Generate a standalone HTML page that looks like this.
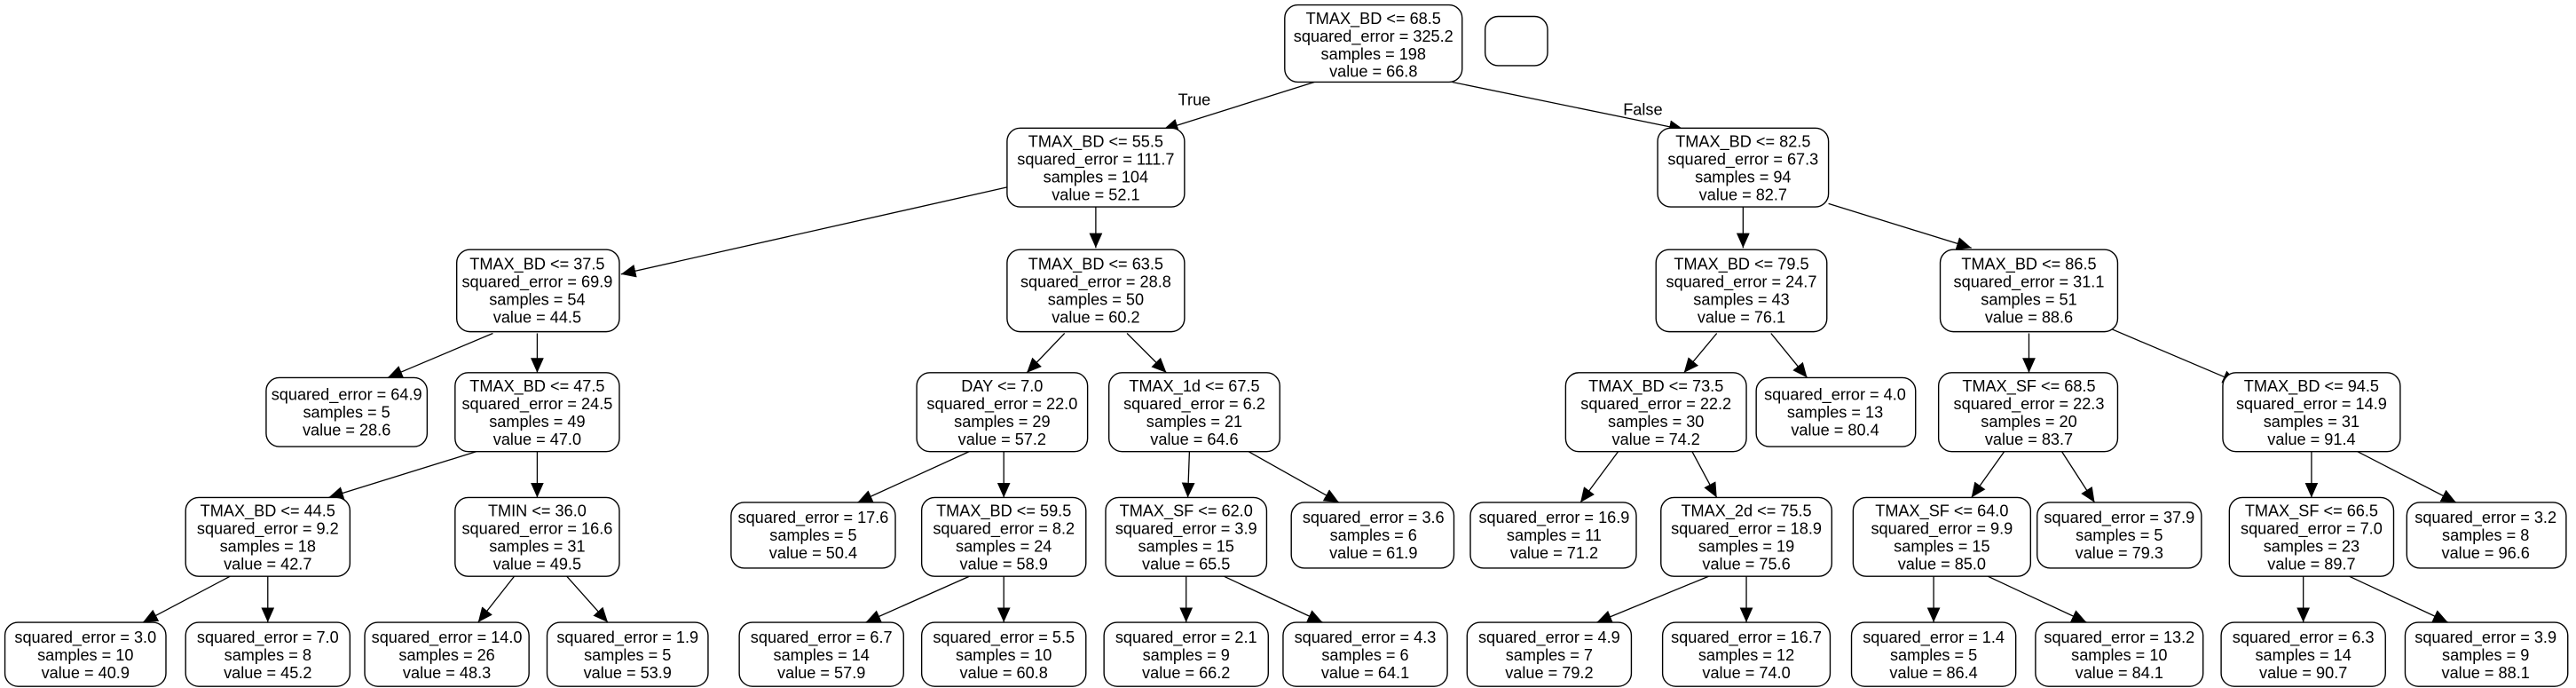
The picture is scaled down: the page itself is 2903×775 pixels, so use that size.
<!DOCTYPE html>
<html><head><meta charset="utf-8"><style>
html,body{margin:0;padding:0;background:#fff;}
svg{display:block;}
text{font-family:"Liberation Sans",Arial,sans-serif;font-size:9.8px;fill:#000;text-anchor:middle;}
rect{fill:#fff;stroke:#000;stroke-width:0.75;}
line{stroke:#000;stroke-width:0.7;}
</style></head><body>
<svg width="2903" height="775" viewBox="0 0 1568 419" preserveAspectRatio="none" xmlns="http://www.w3.org/2000/svg">
<defs><marker id="a" markerUnits="userSpaceOnUse" markerWidth="11" markerHeight="9" refX="9" refY="4" orient="auto"><path d="M0,0 L9,4 L0,8 z" fill="#000"/></marker></defs>
<g marker-end="url(#a)">
<line x1="800" y1="50" x2="708" y2="79"/>
<line x1="884" y1="50" x2="1025" y2="79"/>
<line x1="613" y1="114" x2="378" y2="167"/>
<line x1="667" y1="126" x2="667" y2="151"/>
<line x1="1061" y1="126" x2="1061" y2="151"/>
<line x1="1113" y1="124" x2="1200" y2="151"/>
<line x1="300" y1="203" x2="236" y2="230"/>
<line x1="327" y1="203" x2="327" y2="227"/>
<line x1="648" y1="203" x2="625" y2="227"/>
<line x1="686" y1="203" x2="710" y2="227"/>
<line x1="1045" y1="203" x2="1025" y2="227"/>
<line x1="1078" y1="203" x2="1100" y2="230"/>
<line x1="1235" y1="203" x2="1235" y2="227"/>
<line x1="1282" y1="199" x2="1362" y2="233"/>
<line x1="290" y1="275" x2="200" y2="303"/>
<line x1="327" y1="275" x2="327" y2="303"/>
<line x1="590" y1="275" x2="522" y2="306"/>
<line x1="611" y1="275" x2="611" y2="303"/>
<line x1="724" y1="275" x2="723" y2="303"/>
<line x1="760" y1="275" x2="815" y2="306"/>
<line x1="985" y1="275" x2="962" y2="306"/>
<line x1="1030" y1="275" x2="1045" y2="303"/>
<line x1="1220" y1="275" x2="1200" y2="303"/>
<line x1="1255" y1="275" x2="1275" y2="306"/>
<line x1="1407" y1="275" x2="1407" y2="303"/>
<line x1="1435" y1="275" x2="1495" y2="306"/>
<line x1="140" y1="351" x2="87" y2="379"/>
<line x1="163" y1="351" x2="163" y2="379"/>
<line x1="313" y1="351" x2="291" y2="379"/>
<line x1="345" y1="351" x2="370" y2="379"/>
<line x1="590" y1="351" x2="527" y2="379"/>
<line x1="611" y1="351" x2="611" y2="379"/>
<line x1="722" y1="351" x2="722" y2="379"/>
<line x1="745" y1="351" x2="805" y2="379"/>
<line x1="1040" y1="351" x2="972" y2="379"/>
<line x1="1063" y1="351" x2="1063" y2="379"/>
<line x1="1177" y1="351" x2="1177" y2="379"/>
<line x1="1210" y1="351" x2="1270" y2="379"/>
<line x1="1402" y1="351" x2="1402" y2="379"/>
<line x1="1430" y1="351" x2="1490" y2="379"/>
</g>
<text x="727" y="64">True</text>
<text x="1000" y="70">False</text>

<rect x="782" y="3" width="108" height="47" rx="8"/>
<text x="836" y="14.5">TMAX_BD &lt;= 68.5</text><text x="836" y="25.3">squared_error = 325.2</text><text x="836" y="36.1">samples = 198</text><text x="836" y="46.9">value = 66.8</text>
<rect x="904" y="10" width="38" height="30" rx="8"/>

<rect x="613" y="78" width="108" height="48" rx="8"/>
<text x="667" y="89.5">TMAX_BD &lt;= 55.5</text><text x="667" y="100.3">squared_error = 111.7</text><text x="667" y="111.1">samples = 104</text><text x="667" y="121.9">value = 52.1</text>
<rect x="1009" y="78" width="104" height="48" rx="8"/>
<text x="1061" y="89.5">TMAX_BD &lt;= 82.5</text><text x="1061" y="100.3">squared_error = 67.3</text><text x="1061" y="111.1">samples = 94</text><text x="1061" y="121.9">value = 82.7</text>

<rect x="278" y="152" width="99" height="50" rx="8"/>
<text x="327" y="164">TMAX_BD &lt;= 37.5</text><text x="327" y="174.8">squared_error = 69.9</text><text x="327" y="185.6">samples = 54</text><text x="327" y="196.4">value = 44.5</text>
<rect x="613" y="152" width="108" height="50" rx="8"/>
<text x="667" y="164">TMAX_BD &lt;= 63.5</text><text x="667" y="174.8">squared_error = 28.8</text><text x="667" y="185.6">samples = 50</text><text x="667" y="196.4">value = 60.2</text>
<rect x="1008" y="152" width="104" height="50" rx="8"/>
<text x="1060" y="164">TMAX_BD &lt;= 79.5</text><text x="1060" y="174.8">squared_error = 24.7</text><text x="1060" y="185.6">samples = 43</text><text x="1060" y="196.4">value = 76.1</text>
<rect x="1181" y="152" width="108" height="50" rx="8"/>
<text x="1235" y="164">TMAX_BD &lt;= 86.5</text><text x="1235" y="174.8">squared_error = 31.1</text><text x="1235" y="185.6">samples = 51</text><text x="1235" y="196.4">value = 88.6</text>

<rect x="162" y="230" width="98" height="42" rx="8"/>
<text x="211" y="243.5">squared_error = 64.9</text><text x="211" y="254.3">samples = 5</text><text x="211" y="265.1">value = 28.6</text>
<rect x="277" y="227" width="100" height="48" rx="8"/>
<text x="327" y="238.5">TMAX_BD &lt;= 47.5</text><text x="327" y="249.3">squared_error = 24.5</text><text x="327" y="260.1">samples = 49</text><text x="327" y="270.9">value = 47.0</text>
<rect x="558" y="227" width="104" height="48" rx="8"/>
<text x="610" y="238.5">DAY &lt;= 7.0</text><text x="610" y="249.3">squared_error = 22.0</text><text x="610" y="260.1">samples = 29</text><text x="610" y="270.9">value = 57.2</text>
<rect x="675" y="227" width="104" height="48" rx="8"/>
<text x="727" y="238.5">TMAX_1d &lt;= 67.5</text><text x="727" y="249.3">squared_error = 6.2</text><text x="727" y="260.1">samples = 21</text><text x="727" y="270.9">value = 64.6</text>
<rect x="953" y="227" width="110" height="48" rx="8"/>
<text x="1008" y="238.5">TMAX_BD &lt;= 73.5</text><text x="1008" y="249.3">squared_error = 22.2</text><text x="1008" y="260.1">samples = 30</text><text x="1008" y="270.9">value = 74.2</text>
<rect x="1069" y="230" width="97" height="42" rx="8"/>
<text x="1117" y="243.5">squared_error = 4.0</text><text x="1117" y="254.3">samples = 13</text><text x="1117" y="265.1">value = 80.4</text>
<rect x="1180" y="227" width="109" height="48" rx="8"/>
<text x="1235" y="238.5">TMAX_SF &lt;= 68.5</text><text x="1235" y="249.3">squared_error = 22.3</text><text x="1235" y="260.1">samples = 20</text><text x="1235" y="270.9">value = 83.7</text>
<rect x="1353" y="227" width="108" height="48" rx="8"/>
<text x="1407" y="238.5">TMAX_BD &lt;= 94.5</text><text x="1407" y="249.3">squared_error = 14.9</text><text x="1407" y="260.1">samples = 31</text><text x="1407" y="270.9">value = 91.4</text>

<rect x="113" y="303" width="100" height="48" rx="8"/>
<text x="163" y="314.5">TMAX_BD &lt;= 44.5</text><text x="163" y="325.3">squared_error = 9.2</text><text x="163" y="336.1">samples = 18</text><text x="163" y="346.9">value = 42.7</text>
<rect x="277" y="303" width="100" height="48" rx="8"/>
<text x="327" y="314.5">TMIN &lt;= 36.0</text><text x="327" y="325.3">squared_error = 16.6</text><text x="327" y="336.1">samples = 31</text><text x="327" y="346.9">value = 49.5</text>
<rect x="445" y="306" width="100" height="40" rx="8"/>
<text x="495" y="318.5">squared_error = 17.6</text><text x="495" y="329.3">samples = 5</text><text x="495" y="340.1">value = 50.4</text>
<rect x="561" y="303" width="100" height="48" rx="8"/>
<text x="611" y="314.5">TMAX_BD &lt;= 59.5</text><text x="611" y="325.3">squared_error = 8.2</text><text x="611" y="336.1">samples = 24</text><text x="611" y="346.9">value = 58.9</text>
<rect x="673" y="303" width="98" height="48" rx="8"/>
<text x="722" y="314.5">TMAX_SF &lt;= 62.0</text><text x="722" y="325.3">squared_error = 3.9</text><text x="722" y="336.1">samples = 15</text><text x="722" y="346.9">value = 65.5</text>
<rect x="786" y="306" width="99" height="40" rx="8"/>
<text x="836" y="318.5">squared_error = 3.6</text><text x="836" y="329.3">samples = 6</text><text x="836" y="340.1">value = 61.9</text>
<rect x="895" y="306" width="101" height="40" rx="8"/>
<text x="946" y="318.5">squared_error = 16.9</text><text x="946" y="329.3">samples = 11</text><text x="946" y="340.1">value = 71.2</text>
<rect x="1011" y="303" width="104" height="48" rx="8"/>
<text x="1063" y="314.5">TMAX_2d &lt;= 75.5</text><text x="1063" y="325.3">squared_error = 18.9</text><text x="1063" y="336.1">samples = 19</text><text x="1063" y="346.9">value = 75.6</text>
<rect x="1128" y="303" width="108" height="48" rx="8"/>
<text x="1182" y="314.5">TMAX_SF &lt;= 64.0</text><text x="1182" y="325.3">squared_error = 9.9</text><text x="1182" y="336.1">samples = 15</text><text x="1182" y="346.9">value = 85.0</text>
<rect x="1240" y="306" width="100" height="40" rx="8"/>
<text x="1290" y="318.5">squared_error = 37.9</text><text x="1290" y="329.3">samples = 5</text><text x="1290" y="340.1">value = 79.3</text>
<rect x="1357" y="303" width="100" height="48" rx="8"/>
<text x="1407" y="314.5">TMAX_SF &lt;= 66.5</text><text x="1407" y="325.3">squared_error = 7.0</text><text x="1407" y="336.1">samples = 23</text><text x="1407" y="346.9">value = 89.7</text>
<rect x="1465" y="306" width="97" height="40" rx="8"/>
<text x="1513" y="318.5">squared_error = 3.2</text><text x="1513" y="329.3">samples = 8</text><text x="1513" y="340.1">value = 96.6</text>

<rect x="3" y="379" width="98" height="39" rx="8"/>
<text x="52" y="391.5">squared_error = 3.0</text><text x="52" y="402.3">samples = 10</text><text x="52" y="413.1">value = 40.9</text>
<rect x="113" y="379" width="100" height="39" rx="8"/>
<text x="163" y="391.5">squared_error = 7.0</text><text x="163" y="402.3">samples = 8</text><text x="163" y="413.1">value = 45.2</text>
<rect x="222" y="379" width="100" height="39" rx="8"/>
<text x="272" y="391.5">squared_error = 14.0</text><text x="272" y="402.3">samples = 26</text><text x="272" y="413.1">value = 48.3</text>
<rect x="333" y="379" width="98" height="39" rx="8"/>
<text x="382" y="391.5">squared_error = 1.9</text><text x="382" y="402.3">samples = 5</text><text x="382" y="413.1">value = 53.9</text>
<rect x="450" y="379" width="100" height="39" rx="8"/>
<text x="500" y="391.5">squared_error = 6.7</text><text x="500" y="402.3">samples = 14</text><text x="500" y="413.1">value = 57.9</text>
<rect x="561" y="379" width="100" height="39" rx="8"/>
<text x="611" y="391.5">squared_error = 5.5</text><text x="611" y="402.3">samples = 10</text><text x="611" y="413.1">value = 60.8</text>
<rect x="672" y="379" width="100" height="39" rx="8"/>
<text x="722" y="391.5">squared_error = 2.1</text><text x="722" y="402.3">samples = 9</text><text x="722" y="413.1">value = 66.2</text>
<rect x="781" y="379" width="100" height="39" rx="8"/>
<text x="831" y="391.5">squared_error = 4.3</text><text x="831" y="402.3">samples = 6</text><text x="831" y="413.1">value = 64.1</text>
<rect x="893" y="379" width="100" height="39" rx="8"/>
<text x="943" y="391.5">squared_error = 4.9</text><text x="943" y="402.3">samples = 7</text><text x="943" y="413.1">value = 79.2</text>
<rect x="1012" y="379" width="102" height="39" rx="8"/>
<text x="1063" y="391.5">squared_error = 16.7</text><text x="1063" y="402.3">samples = 12</text><text x="1063" y="413.1">value = 74.0</text>
<rect x="1127" y="379" width="100" height="39" rx="8"/>
<text x="1177" y="391.5">squared_error = 1.4</text><text x="1177" y="402.3">samples = 5</text><text x="1177" y="413.1">value = 86.4</text>
<rect x="1239" y="379" width="102" height="39" rx="8"/>
<text x="1290" y="391.5">squared_error = 13.2</text><text x="1290" y="402.3">samples = 10</text><text x="1290" y="413.1">value = 84.1</text>
<rect x="1352" y="379" width="100" height="39" rx="8"/>
<text x="1402" y="391.5">squared_error = 6.3</text><text x="1402" y="402.3">samples = 14</text><text x="1402" y="413.1">value = 90.7</text>
<rect x="1464" y="379" width="99" height="39" rx="8"/>
<text x="1513" y="391.5">squared_error = 3.9</text><text x="1513" y="402.3">samples = 9</text><text x="1513" y="413.1">value = 88.1</text>
</svg>
</body></html>
